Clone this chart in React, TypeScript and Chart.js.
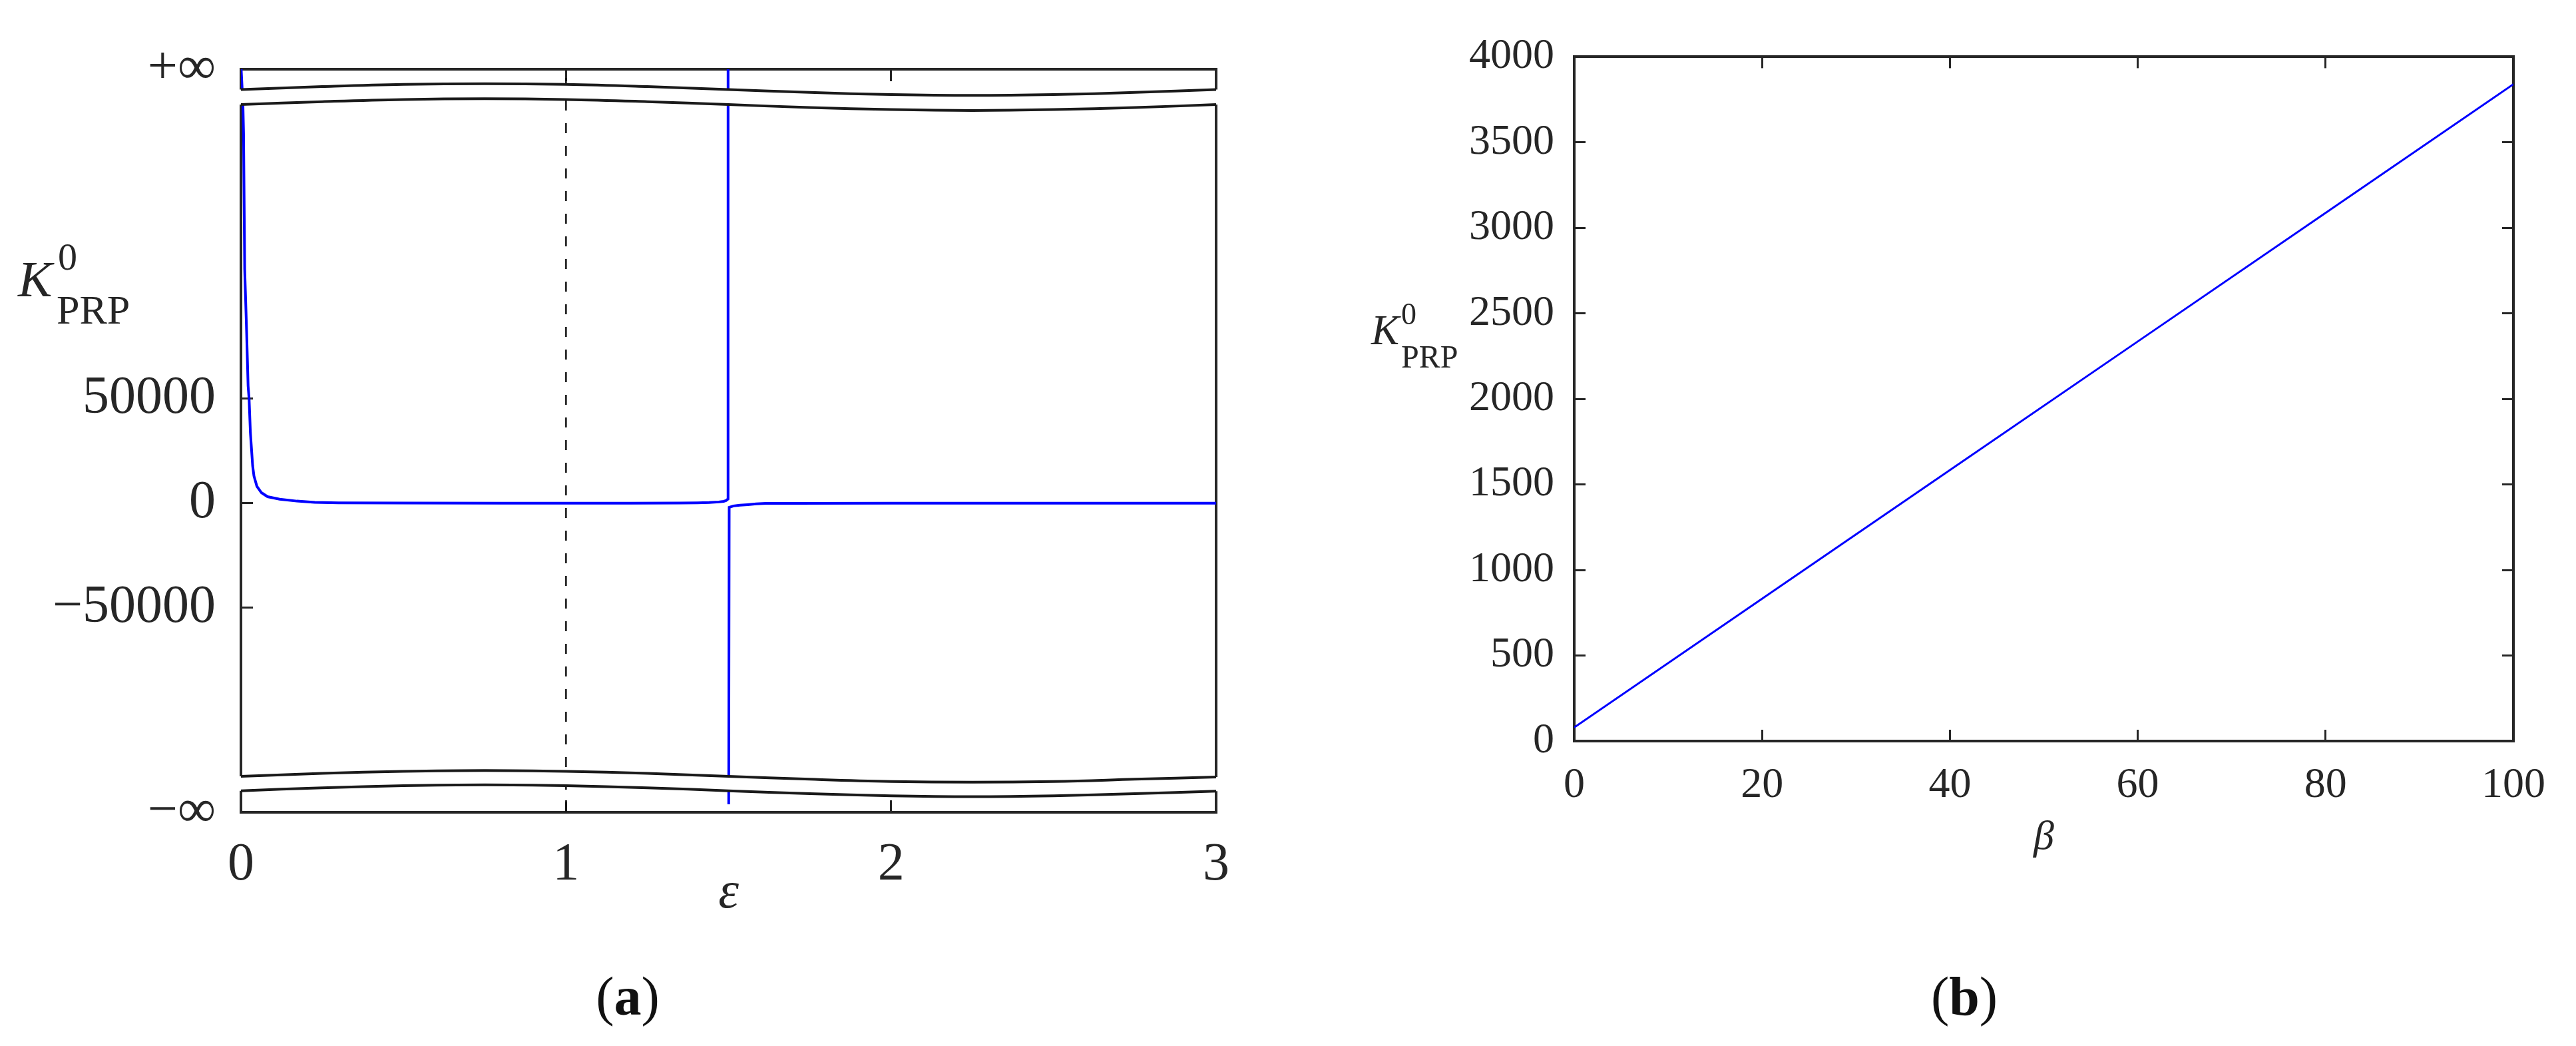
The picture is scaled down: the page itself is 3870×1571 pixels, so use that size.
import React, { useEffect, useRef } from 'react';
import { Chart, registerables } from 'chart.js';

Chart.register(...registerables);

const FONT = "'Liberation Serif', 'Times New Roman', Times, serif";
const INK = '#262626';
const BLUE = '#0000ff';

// ---------------- Panel (a) data ----------------
const epsA = [
  0, 0.0008, 0.006, 0.008, 0.0115, 0.0175, 0.022, 0.025, 0.029, 0.036, 0.04, 0.049, 0.063, 0.082,
  0.119, 0.172, 0.227, 0.3, 0.5, 0.8, 1.0, 1.2, 1.35, 1.404, 1.44, 1.47, 1.485, 1.492, 1.4985,
  1.4995, 1.5, 1.5005, 1.502, 1.515, 1.535, 1.559, 1.585, 1.615, 1.7, 2.0, 2.5, 3.0,
];
const kA = [
  3000000, 207000, 191000, 177000, 112000, 81500, 56000, 50000, 33750, 17800, 13000, 8100, 5000, 3100,
  1900, 1000, 400, 200, 80, 40, 30, 40, 100, 150, 300, 600, 900, 1250, 2000,
  3000000, null, -144000, -2000, -1300, -950, -700, -350, -80, -40, -20, -10, -5,
];
const dashEps = [1, 1];
const dashK = [-147800, 207500];

const breakEps = [0, 0.25, 0.5, 0.75, 1.0, 1.25, 1.5, 1.75, 2.0, 2.25, 2.5, 2.75, 3.0];
const breakTopUpper = [197800, 199200, 200250, 200600, 200250, 199200, 197800, 196400, 195400, 195000, 195400, 196400, 197800];
const breakTopLower = [190600, 192000, 193050, 193400, 193050, 192000, 190600, 189200, 188200, 187800, 188200, 189200, 190600];
const breakBotUpper = [-130600, -129200, -128200, -127800, -128200, -129200, -130600, -132000, -133050, -133400, -133050, -132000, -130900];
const breakBotLower = [-137500, -136100, -135100, -134700, -135100, -136100, -137500, -138900, -139900, -140300, -139900, -138900, -137700];

const xTicksA = [0, 1, 2, 3];
const yTickValsA = [-147800, -50000, 0, 50000, 207500];
const yTickLabelsA = ['−∞', '−50000', '0', '50000', '+∞'];

// ---------------- Panel (b) data ----------------
const betaB = [0, 20, 40, 60, 80, 100];
const kB = [80, 832, 1584, 2336, 3088, 3840];
const xTicksB = [0, 20, 40, 60, 80, 100];
const yTicksB = [0, 500, 1000, 1500, 2000, 2500, 3000, 3500, 4000];

const xy = (xs: number[], ys: (number | null)[]) => xs.map((x, i) => ({ x, y: ys[i] }));

const kLabelPlugin = {
  id: 'kLabel',
  afterDraw(chart: any, _args: any, o: any) {
    const { ctx } = chart;
    ctx.save();
    ctx.fillStyle = INK;
    ctx.textAlign = 'left';
    ctx.textBaseline = 'alphabetic';
    ctx.font = `italic ${o.kSize}px ${FONT}`;
    ctx.fillText('K', o.kX, o.kY);
    ctx.font = `${o.supSize}px ${FONT}`;
    ctx.fillText('0', o.supX, o.supY);
    ctx.font = `${o.subSize}px ${FONT}`;
    ctx.fillText('PRP', o.subX, o.subY);
    ctx.restore();
  },
};

const breakBandPlugin = {
  id: 'breakBand',
  afterDatasetDraw(chart: any, args: any) {
    if (args.index !== 1) return;
    const { ctx, chartArea } = chart;
    const x = chart.scales.x;
    const y = chart.scales.y;
    const band = (up: number[], lo: number[]) => {
      const ext = 8;
      ctx.save();
      ctx.fillStyle = '#ffffff';
      ctx.beginPath();
      ctx.moveTo(chartArea.left - ext, y.getPixelForValue(up[0]));
      breakEps.forEach((e, i) => ctx.lineTo(x.getPixelForValue(e), y.getPixelForValue(up[i])));
      ctx.lineTo(chartArea.right + ext, y.getPixelForValue(up[up.length - 1]));
      ctx.lineTo(chartArea.right + ext, y.getPixelForValue(lo[lo.length - 1]));
      for (let i = lo.length - 1; i >= 0; i--) ctx.lineTo(x.getPixelForValue(breakEps[i]), y.getPixelForValue(lo[i]));
      ctx.lineTo(chartArea.left - ext, y.getPixelForValue(lo[0]));
      ctx.closePath();
      ctx.fill();
      ctx.restore();
    };
    band(breakTopUpper, breakTopLower);
    band(breakBotUpper, breakBotLower);
  },
};

const gridInward = (len: number) => ({
  display: true,
  drawOnChartArea: false,
  drawTicks: true,
  tickLength: -len,
  tickWidth: 3,
  tickColor: INK,
  color: INK,
});
const border = { display: true, color: INK, width: 4 };

function ChartA() {
  const ref = useRef<HTMLCanvasElement>(null);
  useEffect(() => {
    if (!ref.current) return;
    const curve = (data: number[]) => ({
      data: xy(breakEps, data),
      borderColor: '#1a1a1a',
      borderWidth: 4,
      pointRadius: 0,
      tension: 0.4,
      order: 0,
    });
    const chart = new Chart(ref.current, {
      type: 'line',
      data: {
        datasets: [
          { data: xy(epsA, kA), borderColor: BLUE, borderWidth: 4, pointRadius: 0, tension: 0, order: 30, spanGaps: false },
          { data: xy(dashEps, dashK), borderColor: '#111', borderWidth: 2.5, borderDash: [15, 19], pointRadius: 0, order: 20 },
          curve(breakTopUpper),
          curve(breakTopLower),
          curve(breakBotUpper),
          curve(breakBotLower),
        ] as any,
      },
      options: {
        animation: false,
        responsive: false,
        maintainAspectRatio: false,
        events: [],
        layout: { padding: { left: 0, right: 73, top: 0, bottom: 0 } },
        plugins: {
          legend: { display: false },
          tooltip: { enabled: false },
          kLabel: { kX: 27, kY: 445, kSize: 77, supX: 87, supY: 405, supSize: 58, subX: 85, subY: 486, subSize: 62 },
        } as any,
        scales: {
          x: {
            type: 'linear', position: 'bottom', min: 0, max: 3,
            afterBuildTicks: (s: any) => { s.ticks = xTicksA.map((v) => ({ value: v })); },
            afterFit: (s: any) => { s.height = 200; },
            ticks: { font: { family: FONT, size: 80 }, color: INK, padding: 50, maxRotation: 0, autoSkip: false, callback: (v: any) => String(v) },
            grid: gridInward(18), border,
            title: { display: true, text: 'ε', color: INK, font: { family: FONT, size: 78, style: 'italic' }, padding: { top: 0, bottom: 31 } },
          },
          x2: {
            type: 'linear', position: 'top', min: 0, max: 3,
            afterBuildTicks: (s: any) => { s.ticks = xTicksA.map((v) => ({ value: v })); },
            afterFit: (s: any) => { s.height = 83; },
            ticks: { display: false },
            grid: gridInward(18), border,
          },
          y: {
            type: 'linear', position: 'left', min: -147800, max: 207500,
            afterBuildTicks: (s: any) => { s.ticks = yTickValsA.map((v) => ({ value: v })); },
            afterFit: (s: any) => { s.width = 362; },
            ticks: { font: { family: FONT, size: 80 }, color: INK, padding: 56, autoSkip: false, callback: (_v: any, i: number) => yTickLabelsA[i] },
            grid: gridInward(18), border,
          },
          y2: {
            type: 'linear', position: 'right', min: -147800, max: 207500,
            afterFit: (s: any) => { s.width = 0; },
            ticks: { display: false },
            grid: { display: true, drawOnChartArea: false, drawTicks: false },
            border,
          },
        } as any,
      },
      plugins: [kLabelPlugin, breakBandPlugin],
    });
    return () => chart.destroy();
  }, []);
  return <canvas ref={ref} width={1900} height={1420} style={{ position: 'absolute', left: 0, top: 0, width: 1900, height: 1420 }} />;
}

function ChartB() {
  const ref = useRef<HTMLCanvasElement>(null);
  useEffect(() => {
    if (!ref.current) return;
    const chart = new Chart(ref.current, {
      type: 'line',
      data: {
        datasets: [
          { data: xy(betaB, kB), borderColor: BLUE, borderWidth: 3, pointRadius: 0, tension: 0 },
        ] as any,
      },
      options: {
        animation: false,
        responsive: false,
        maintainAspectRatio: false,
        events: [],
        layout: { padding: { left: 0, right: 93, top: 0, bottom: 0 } },
        plugins: {
          legend: { display: false },
          tooltip: { enabled: false },
          kLabel: { kX: 110, kY: 517, kSize: 63, supX: 155, supY: 487, supSize: 46, subX: 155, subY: 552, subSize: 48 },
        } as any,
        scales: {
          x: {
            type: 'linear', position: 'bottom', min: 0, max: 100,
            afterBuildTicks: (s: any) => { s.ticks = xTicksB.map((v) => ({ value: v })); },
            afterFit: (s: any) => { s.height = 307; },
            ticks: { font: { family: FONT, size: 64 }, color: INK, padding: 46, maxRotation: 0, autoSkip: false, callback: (v: any) => String(v) },
            grid: gridInward(17), border,
            title: { display: true, text: 'β', color: INK, font: { family: FONT, size: 62, style: 'italic' }, padding: { top: 0, bottom: 124 } },
          },
          x2: {
            type: 'linear', position: 'top', min: 0, max: 100,
            afterBuildTicks: (s: any) => { s.ticks = xTicksB.map((v) => ({ value: v })); },
            afterFit: (s: any) => { s.height = 55; },
            ticks: { display: false },
            grid: gridInward(17), border,
          },
          y: {
            type: 'linear', position: 'left', min: 0, max: 4000,
            afterBuildTicks: (s: any) => { s.ticks = yTicksB.map((v) => ({ value: v })); },
            afterFit: (s: any) => { s.width = 415; },
            ticks: { font: { family: FONT, size: 64 }, color: INK, padding: 47, autoSkip: false, callback: (v: any) => String(v) },
            grid: gridInward(17), border,
          },
          y2: {
            type: 'linear', position: 'right', min: 0, max: 4000,
            afterBuildTicks: (s: any) => { s.ticks = yTicksB.map((v) => ({ value: v })); },
            afterFit: (s: any) => { s.width = 0; },
            ticks: { display: false },
            grid: gridInward(17), border,
          },
        } as any,
      },
      plugins: [kLabelPlugin],
    });
    return () => chart.destroy();
  }, []);
  return <canvas ref={ref} width={1920} height={1420} style={{ position: 'absolute', left: 1950, top: 0, width: 1920, height: 1420 }} />;
}

export default function App() {
  const cap: React.CSSProperties = {
    position: 'absolute', top: 1456, width: 400, textAlign: 'center',
    fontFamily: FONT, fontSize: 82, lineHeight: 1, color: '#111',
  };
  return (
    <div style={{ position: 'absolute', left: 0, top: 0, width: 3870, height: 1571, background: '#ffffff', overflow: 'hidden' }}>
      <ChartA />
      <ChartB />
      <div style={{ ...cap, left: 743 }}>(<b>a</b>)</div>
      <div style={{ ...cap, left: 2751 }}>(<b>b</b>)</div>
    </div>
  );
}
